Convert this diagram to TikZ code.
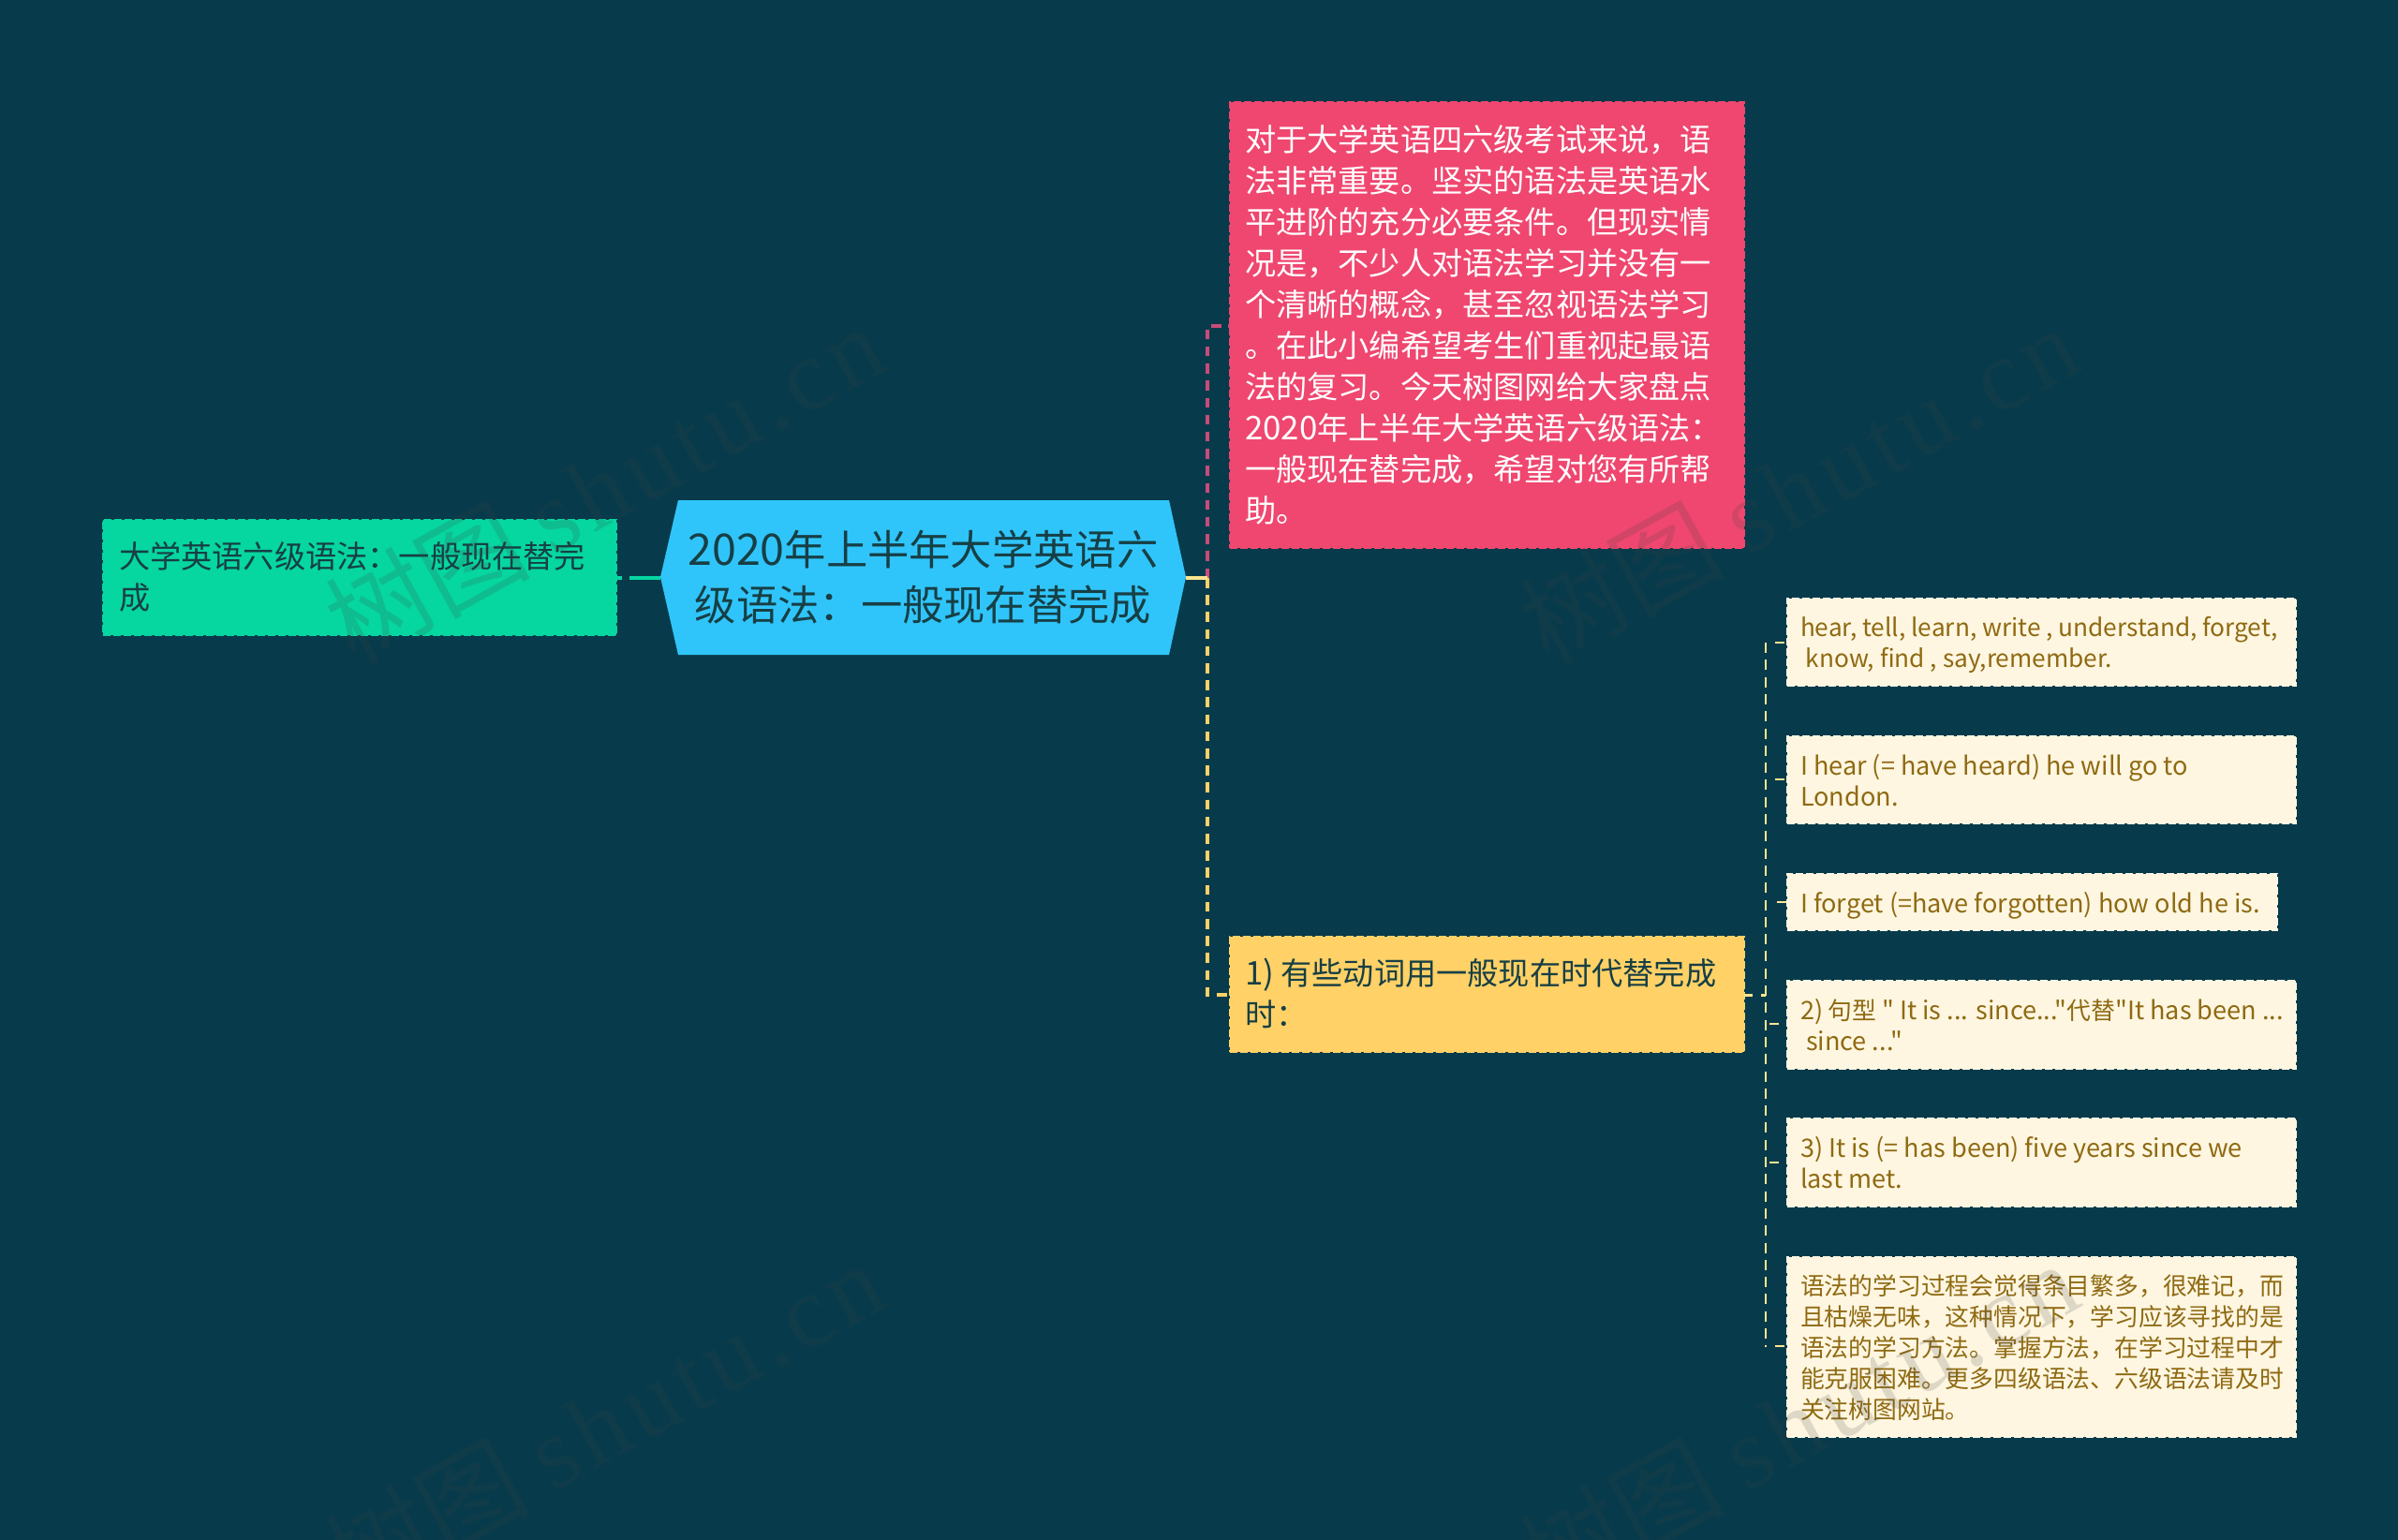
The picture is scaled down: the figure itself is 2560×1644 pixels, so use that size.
\documentclass[tikz,border=0pt]{standalone}
\usepackage{fontspec}
\setmainfont{Noto Sans CJK SC}
\newfontfamily\lat[Scale=1.05]{Noto Sans CJK SC}
\newfontfamily\latn[Scale=1.016]{Noto Sans CJK SC}
\newfontfamily\wmlat[LetterSpace=6]{Liberation Serif}
\definecolor{bgc}{HTML}{073B4C}
\definecolor{pinkc}{HTML}{EF476F}
\definecolor{pinkl}{HTML}{C94C78}
\definecolor{yelc}{HTML}{FFD166}
\definecolor{palec}{HTML}{FBE58F}
\definecolor{grnc}{HTML}{06D6A0}
\definecolor{bluec}{HTML}{30C5FA}
\definecolor{crmc}{HTML}{FEF6E1}
\definecolor{crmt}{HTML}{8F6A12}
\definecolor{dkt}{HTML}{173F45}
\definecolor{wmc}{HTML}{404040}
\tikzset{x=1pt,y=-1pt,
 boxbase/.style={rectangle,inner sep=0pt,outer sep=0pt,anchor=north west,align=left,dash pattern=on 8pt off 3pt,line width=2pt},
 big/.style={boxbase,font=\fontsize{33.2}{44}\selectfont},
 small/.style={boxbase,draw=crmc,fill=crmc,text=crmt,font=\fontsize{25.8}{33}\selectfont},
 words/.style={draw=none,fill=none},
 link/.style={line width=4pt,dash pattern=on 10.5pt off 7.7pt},
 stub/.style={line width=4pt},
 spine/.style={line width=2pt,draw=palec,dash pattern=on 11pt off 7.3pt},
 twig/.style={line width=2pt,draw=palec},
 wm/.style={rotate=29,font=\fontsize{109}{109}\selectfont,opacity=.17,text=wmc,inner sep=0pt}}
\begin{document}
\begin{tikzpicture}
\useasboundingbox (0,0) rectangle (2560,1644);
\fill[bgc] (0,0) rectangle (2560,1644);
\coordinate (fork) at (1289,617);
\coordinate (pinkelbow) at (1289,348);
\coordinate (yelelbow) at (1289,1062);
\coordinate (spinetop) at (1885,686);
\coordinate (spinebot) at (1885,1438);
\coordinate (spinein) at (1885,1062);
\node[big,draw=grnc,fill=grnc,text=dkt,minimum width=548pt,minimum height=123pt] (green) at (110,555) {};
\node[big,words,text=dkt] at (127,578) {大学英语六级语法：一般现在替完\\成};
\node[big,draw=pinkc,fill=pinkc,minimum width=549pt,minimum height=476pt] (pink) at (1313,109) {};
\node[big,words,text=white] at (1329,133.5) {对于大学英语四六级考试来说，语\\法非常重要。坚实的语法是英语水\\平进阶的充分必要条件。但现实情\\况是，不少人对语法学习并没有一\\个清晰的概念，甚至忽视语法学习\\。在此小编希望考生们重视起最语\\法的复习。今天树图网给大家盘点\\{\lat 2020}年上半年大学英语六级语法：\\一般现在替完成，希望对您有所帮\\助。};
\node[big,draw=yelc,fill=yelc,minimum width=549pt,minimum height=123pt] (yellow) at (1313,1000) {};
\node[big,words,text=dkt] at (1329,1023) {{\lat 1)} 有些动词用一般现在时代替完成\\时：};
\fill[bluec] (705,616) -- (724,534) -- (1248,534) -- (1266,616) -- (1248,699) -- (724,699) -- cycle;
\node[inner sep=0pt,outer sep=0pt,minimum width=561pt,minimum height=165pt] (root) at (985.5,616.5) {};
\node[align=center,text=dkt,font=\fontsize{44.3}{59}\selectfont] at (985.5,616.5) {{\lat 2020}年上半年大学英语六\\级语法：一般现在替完成};
\node[small,minimum width=543pt,minimum height=93pt] (c1) at (1908,639) {};
\node[small,words] at (1922,658) {\latn hear, tell, learn, write , understand, forget,\\\latn\ know, find , say,remember.};
\node[small,minimum width=543pt,minimum height=93pt] (c2) at (1908,786) {};
\node[small,words] at (1922,805) {\lat I hear (= have heard) he will go to\\\lat London.};
\node[small,minimum width=523pt,minimum height=60pt] (c3) at (1908,933) {};
\node[small,words] at (1922,952) {\lat I forget (=have forgotten) how old he is.};
\node[small,minimum width=543pt,minimum height=94pt] (c4) at (1908,1047) {};
\node[small,words] at (1922,1066) {{\lat 2)} 句型 {\lat " It is ... since..."}代替{\lat "It has been ...}\\\lat\ since ..."};
\node[small,minimum width=543pt,minimum height=94pt] (c5) at (1908,1194) {};
\node[small,words] at (1922,1213) {\lat 3) It is (= has been) five years since we\\\lat last met.};
\node[small,minimum width=543pt,minimum height=192pt] (c6) at (1908,1342) {};
\node[small,words] at (1922,1361) {语法的学习过程会觉得条目繁多，很难记，而\\且枯燥无味，这种情况下，学习应该寻找的是\\语法的学习方法。掌握方法，在学习过程中才\\能克服困难。更多四级语法、六级语法请及时\\关注树图网站。};
\draw[link,draw=grnc,dash pattern=on 33pt off 8pt on 7pt off 100pt] (root.west |- 0,617) -- (green.east |- 0,617);
\draw[link,draw=pinkl] (fork) -- (pinkelbow) -- (pink.west |- pinkelbow);
\draw[link,draw=yelc] (fork) -- (yelelbow) -- (yellow.west |- yelelbow);
\draw[stub,draw=palec] (root.east |- fork) -- (fork);
\draw[twig,line width=3pt,dash pattern=on 9pt off 9pt on 5pt off 50pt] (yellow.east |- spinein) -- (spinein);
\draw[spine] (spinetop) -- (spinebot);
\foreach \c/\y/\g in {c1/686/10,c2/832/10,c3/963/12,c4/1093/4,c5/1241/4,c6/1437/10}{
 \draw[twig,dash pattern=on 0pt off \g pt on 10pt off 50pt] (spinetop |- 0,\y) -- (\c.west |- 0,\y);
}
\foreach \a/\b in {645/516,1920/516,645/1516,1920/1516}{
 \node[wm] at (\a,\b) {树图 {\wmlat shutu.cn}};
}
\end{tikzpicture}
\end{document}
